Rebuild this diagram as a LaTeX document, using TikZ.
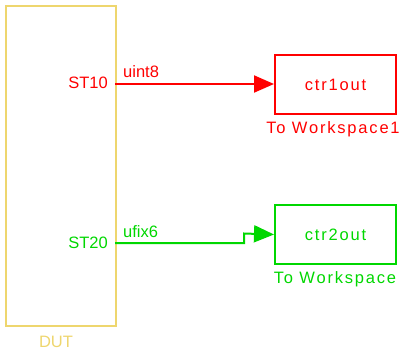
\documentclass[tikz,border=0pt]{standalone}
\usepackage{fontspec}
\setmainfont{Liberation Sans}
\usetikzlibrary{arrows.meta}
\definecolor{dutyellow}{RGB}{238,214,110}
\definecolor{sigred}{RGB}{255,0,0}
\definecolor{siggreen}{RGB}{0,215,0}
\begin{document}
\begin{tikzpicture}[x=1pt,y=-1pt,
  lbl/.style={font=\fontsize{16.5}{18}\selectfont, inner sep=0pt},
  wide/.style={font=\fontsize{16.5}{18}\selectfont\addfontfeature{LetterSpace=11}, inner sep=0pt},
  blk/.style={draw, line width=2pt, minimum width=121pt, minimum height=59pt, inner sep=0pt},
  sig/.style={line width=2pt, -{Triangle[length=20pt,width=17pt]}}
]
\useasboundingbox (0,0) rectangle (402,351);
% DUT
\node[draw=dutyellow, line width=2pt, minimum width=110pt, minimum height=320pt, inner sep=0pt, anchor=north west] (dut) at (5,5) {};
\node[lbl, text=dutyellow] (dutlbl) at (56,342) {DUT};
\node[lbl, text=sigred, anchor=east] (st10) at (108,83) {ST10};
\node[lbl, text=siggreen, anchor=east] (st20) at (108,243) {ST20};
\coordinate (p1) at (115,84);
\coordinate (p2) at (115,243);
% red
\node[blk, draw=sigred, anchor=north west, text=sigred, font=\fontsize{16.5}{18}\selectfont\addfontfeature{LetterSpace=11}] (ws1) at (274,54) {ctr1out};
\node[wide, text=sigred] (ws1lbl) at (333,129) {To Workspace1};
\draw[sig, sigred] (p1) -- (p1 -| ws1.west);
\node[lbl, text=sigred, anchor=west] (uint) at (123,72) {uint8};
% green
\node[blk, draw=siggreen, anchor=north west, text=siggreen, font=\fontsize{16.5}{18}\selectfont\addfontfeature{LetterSpace=11}] (ws2) at (274,204) {ctr2out};
\node[wide, text=siggreen] (ws2lbl) at (335,279) {To Workspace};
\coordinate (k1) at (244,243);
\coordinate (k2) at (244,233.5);
\draw[sig, siggreen] (p2) -- (k1) -- (k2) -- (ws2.west);
\node[lbl, text=siggreen, anchor=west] (ufix) at (123,232) {ufix6};
\end{tikzpicture}
\end{document}
